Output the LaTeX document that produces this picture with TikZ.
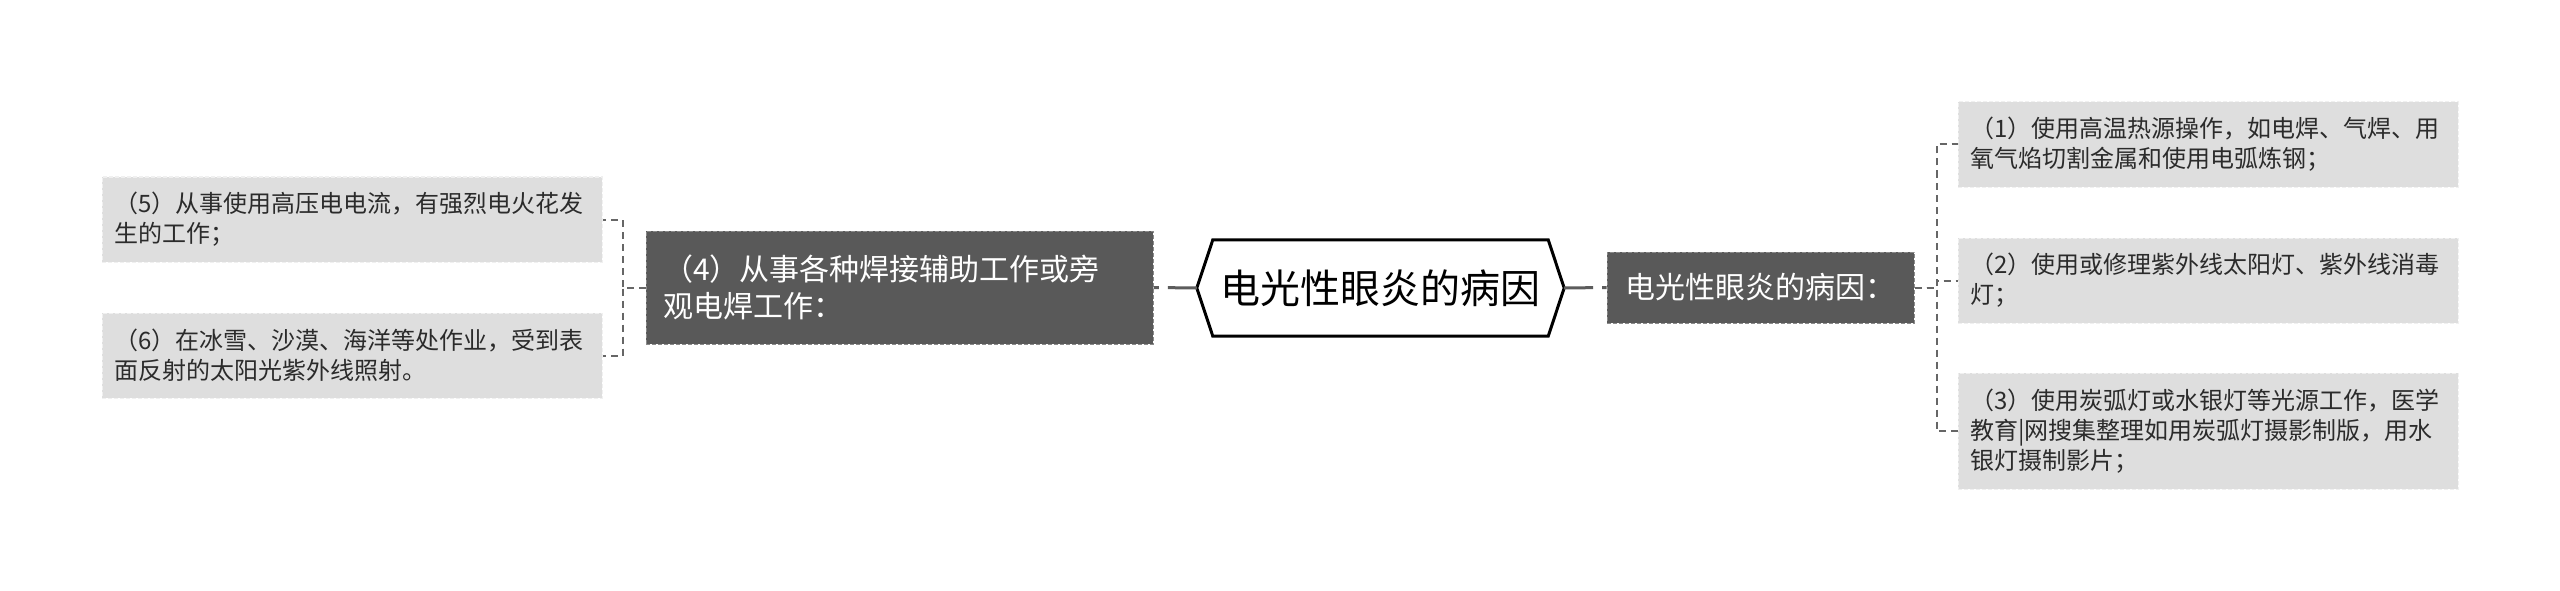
\documentclass[tikz,border=0pt]{standalone}
\usepackage{fontspec}
\setmainfont{Noto Sans CJK SC}
\definecolor{leaffill}{HTML}{DEDEDE}
\definecolor{leafline}{HTML}{F0F0F0}
\definecolor{leaftext}{HTML}{2B2B2B}
\definecolor{darkfill}{HTML}{595959}
\definecolor{darkline}{HTML}{8A8A8A}
\definecolor{linkgray}{HTML}{666666}
\begin{document}
\begin{tikzpicture}[x=1pt,y=-1pt,
    leaf/.style={fill=leaffill, draw=leafline, line width=1pt, dash pattern=on 4pt off 2pt,
      text=leaftext, text width=476pt, inner xsep=12pt, inner ysep=0pt,
      minimum height=85pt, align=left, font=\fontsize{24}{30}\selectfont},
    darkbox/.style={fill=darkfill, draw=darkline, line width=1pt, dash pattern=on 4pt off 2pt,
      text=white, inner ysep=0pt, font=\fontsize{30}{37.5}\selectfont},
    branch/.style={draw=linkgray, line width=2pt, dash pattern=on 7pt off 5pt},
    stem/.style={draw=linkgray!90!black, line width=3pt, dash pattern=on 29pt off 9pt on 10pt off 9pt}]
            \fill[white] (0,0) rectangle (2560,591);
            \useasboundingbox (0,0) rectangle (2560,591);

            % centre
            \node[minimum width=335pt, minimum height=96pt, inner sep=0pt,
              font=\fontsize{40}{48}\selectfont] (hex) at (1380.5,288) {电光性眼炎的病因};
            \coordinate (hexL) at ([xshift=-16pt]hex.west);
            \coordinate (hexR) at ([xshift=16pt]hex.east);
            \draw[line width=3pt, line join=miter] (hexL) -- (hex.north west) -- (hex.north east)
              -- (hexR) -- (hex.south east) -- (hex.south west) -- cycle;

            % right side
            \node[darkbox, minimum width=307pt, minimum height=71pt] (r0) at (1760.5,287.5) {电光性眼炎的病因：};
            \node[leaf] (r1) at (2208,144.5) {（1）使用高温热源操作，如电焊、气焊、用\\氧气焰切割金属和使用电弧炼钢；};
            \node[leaf] (r2) at (2208,280.5) {（2）使用或修理紫外线太阳灯、紫外线消毒\\灯；};
            \node[leaf, minimum height=116pt] (r3) at (2208,431) {（3）使用炭弧灯或水银灯等光源工作，医学\\教育|网搜集整理如用炭弧灯摄影制版，用水\\银灯摄制影片；};

            % left side
            \node[darkbox, text width=473pt, inner xsep=17pt, minimum height=113pt, align=left] (l0) at (899.5,287.5) {（4）从事各种焊接辅助工作或旁\\观电焊工作：};
            \node[leaf] (l1) at (352,219.5) {（5）从事使用高压电电流，有强烈电火花发\\生的工作；};
            \node[leaf] (l2) at (352,355.5) {（6）在冰雪、沙漠、海洋等处作业，受到表\\面反射的太阳光紫外线照射。};

            \draw[stem] (hexR) -- (r0.west);
            \draw[stem] (hexL) -- (l0.east);

            \draw[branch] (r0.east) -- ++(22,0) |- (r1.west);
            \draw[branch] (r0.east) -- ++(22,0) |- (r2.west);
            \draw[branch] (r0.east) -- ++(22,0) |- (r3.west);
            \draw[branch] (l0.west) -- ++(-23,0) |- (l1.east);
            \draw[branch] (l0.west) -- ++(-23,0) |- (l2.east);
\end{tikzpicture}
\end{document}
